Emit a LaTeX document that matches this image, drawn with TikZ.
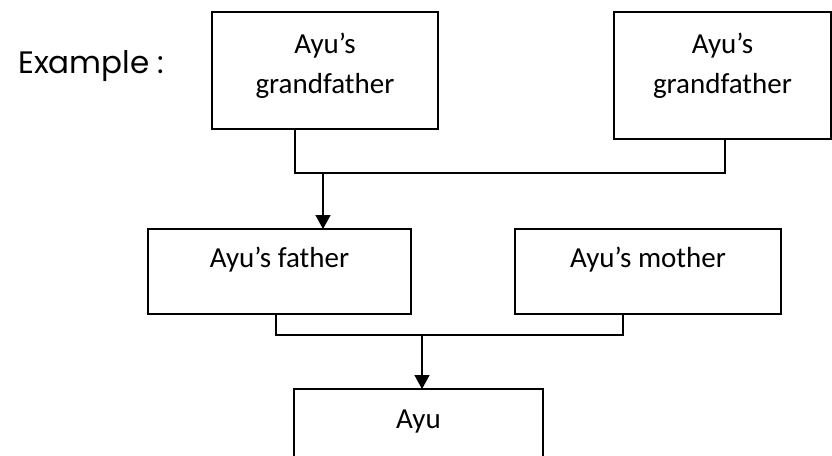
\documentclass[tikz,border=0pt]{standalone}
\usepackage{fontspec}
\setmainfont{Carlito}
\newfontfamily\exfont{Poppins}
\usetikzlibrary{arrows.meta}
\newcommand{\boxlabel}[4]{\parbox[t][#1][t]{#2}{\centering\rule{0pt}{#3}#4}}
\begin{document}
\begin{tikzpicture}[x=1pt,y=-1pt,
  box/.style={draw, line width=1.6pt, inner sep=0pt, outer sep=0pt, anchor=north west,
    font=\fontsize{29}{40}\selectfont},
  link/.style={draw, line width=1.6pt},
  arr/.style={link, -{Triangle[width=15pt,length=14pt]}}]
\useasboundingbox (0,0) rectangle (832,455);
\clip (0,0) rectangle (832,455);
\node[anchor=base west, inner sep=0pt, font=\exfont\fontsize{31}{36}\selectfont] (ex) at (18,73) {Example :};
\node[box] (gf1) at (212,12) {\boxlabel{117pt}{226pt}{41pt}{Ayu’s\\grandfather}};
\node[box] (gf2) at (614,12) {\boxlabel{127pt}{217pt}{41pt}{Ayu’s\\grandfather}};
\node[box] (father) at (148,229) {\boxlabel{85pt}{263pt}{38pt}{Ayu’s father}};
\node[box] (mother) at (515,229) {\boxlabel{85pt}{266pt}{38pt}{Ayu’s mother}};
\node[box] (ayu) at (294,389) {\boxlabel{90pt}{249pt}{39pt}{Ayu}};
\coordinate (d1) at (295,0);
\coordinate (d2) at (725,0);
\coordinate (j1) at (323,173);
\coordinate (d3) at (276,0);
\coordinate (d4) at (623,0);
\coordinate (j2) at (422,335);
\draw[link] (gf1.south -| d1) |- (j1) -| (gf2.south -| d2);
\draw[arr] (j1) -- (father.north -| j1);
\draw[link] (father.south -| d3) |- (j2) -| (mother.south -| d4);
\draw[arr] (j2) -- (ayu.north -| j2);
\end{tikzpicture}
\end{document}
